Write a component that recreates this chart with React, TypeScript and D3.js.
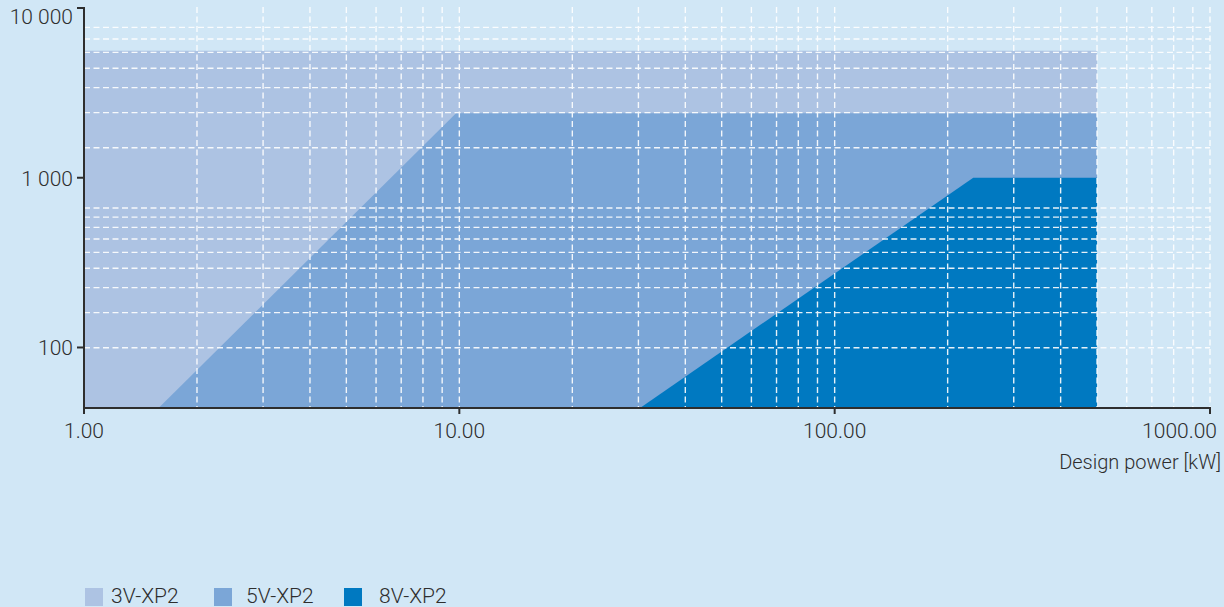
import React, { useEffect } from 'react';
import * as d3 from 'd3';

// series names + colours
const seriesNames = ['3V-XP2', '5V-XP2', '8V-XP2'];
const seriesColors = ['#adc3e3', '#7ba6d7', '#0079c1'];

// corner points of each range, [design power kW, value]
const range3V: [number, number][] = [
    [1, 5600],
    [500, 5600],
];
const range5V: [number, number][] = [
    [1.58, 44],
    [9.8, 2400],
    [500, 2400],
];
const range8V: [number, number][] = [
    [30.3, 44],
    [234, 1000],
    [500, 1000],
];

const xTicks = [1, 10, 100, 1000];
const yTicks = [100, 1000, 10000];
const xTitle = 'Design power [kW]';

const W = 1224;
const H = 607;
const BG = '#d1e7f6';
const INK = '#2e2e2e';

const left = 84;
const right = 1210;
const top = 8;
const bottom = 408;

const fmtX = d3.format('.2f');
const fmtY = d3
    .formatLocale({ decimal: '.', thousands: ' ', grouping: [3], currency: ['', ''] })
    .format(',');

export default function App() {
    useEffect(() => {
        document.body.style.margin = '0';
        document.body.style.background = BG;
    }, []);

    const x = d3.scaleLog().domain([1, 1000]).range([left, right]);
    const y = d3.scaleLog().domain([44, 10000]).range([bottom, top]);
    // the grid uses its own decades (as in the source picture)
    const yGrid = d3.scaleLog().domain([100, 10000]).range([bottom, top]);

    const area = d3
        .area<[number, number]>()
        .x(d => x(d[0]))
        .y0(bottom)
        .y1(d => y(d[1]));

    const ranges = [range3V, range5V, range8V];
    const gridX = x.ticks().filter(v => v > 1);
    const gridYVals = yGrid.ticks().filter(v => v > 100 && v < 8500);

    const font = 'Roboto, "Liberation Sans", sans-serif';

    return (
        <svg width={W} height={H} style={{ display: 'block', background: BG }} fontFamily={font}>
            <rect width={W} height={H} fill={BG} />

            {ranges.map((r, i) => (
                <path key={i} d={area(r) || ''} fill={seriesColors[i]} />
            ))}

            <g stroke="#fff" strokeWidth={1.4} strokeDasharray="6 3.5" opacity={0.9}>
                {gridX.map(v => (
                    <line key={'gx' + v} x1={x(v)} x2={x(v)} y1={top - 1} y2={bottom} />
                ))}
                {gridYVals.map(v => (
                    <line key={'gy' + v} x1={left} x2={right} y1={yGrid(v)} y2={yGrid(v)} />
                ))}
            </g>

            {/* axes */}
            <g stroke={INK} strokeWidth={2} fill="none">
                <line x1={left} x2={left} y1={top - 1} y2={bottom + 1} />
                <line x1={left - 1} x2={right + 1} y1={bottom} y2={bottom} />
                {xTicks.map(v => (
                    <line key={'xt' + v} x1={x(v)} x2={x(v)} y1={bottom} y2={bottom + 6} />
                ))}
                {yTicks.map(v => (
                    <line key={'yt' + v} x1={left - 7} x2={left} y1={y(v)} y2={y(v)} />
                ))}
            </g>

            <g fontSize={21} fontWeight={300} fill={INK}>
                {xTicks.map((v, i) => {
                    const last = i === xTicks.length - 1;
                    return (
                        <text
                            key={'xl' + v}
                            x={last ? W - 7 : x(v)}
                            y={438}
                            textAnchor={last ? 'end' : 'middle'}
                        >
                            {fmtX(v)}
                        </text>
                    );
                })}
                {yTicks.map(v => (
                    <text key={'yl' + v} x={left - 11} y={Math.max(y(v) + 8, 24)} textAnchor="end">
                        {fmtY(v)}
                    </text>
                ))}
                <text x={W - 3} y={469} textAnchor="end" fontSize={20}>
                    {xTitle}
                </text>
            </g>

            {/* legend */}
            <g fontSize={21} fontWeight={300} fill={INK}>
                {seriesNames.map((s, i) => {
                    const lx = [85, 214, 344][i];
                    return (
                        <g key={s}>
                            <rect x={lx} y={588} width={18} height={18} fill={seriesColors[i]} />
                            <text x={lx + 26 + (i === 2 ? 9 : i === 1 ? 6 : 0)} y={603}>
                                {s}
                            </text>
                        </g>
                    );
                })}
            </g>
        </svg>
    );
}
